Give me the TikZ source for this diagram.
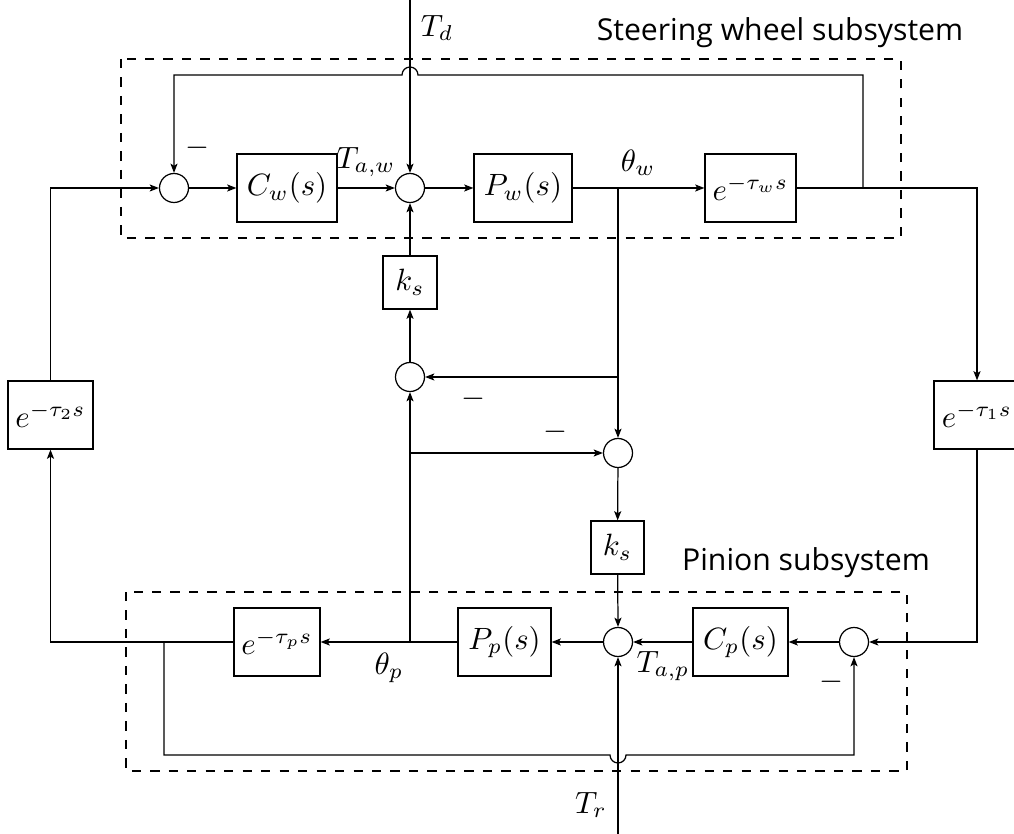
\documentclass[tikz,border=0pt]{standalone}
\usepackage[no-math]{fontspec}
\newfontfamily\subfont{Open Sans}
\usetikzlibrary{arrows.meta}
\begin{document}
\begin{tikzpicture}[x=0.3247pt, y=-0.3247pt,
  blk/.style={draw, rectangle, inner sep=0pt, minimum height=22.08pt},
  sumc/.style={draw, circle, inner sep=0pt, minimum size=9.42pt},
  arr/.style={-{Stealth[length=3pt,width=2.3pt,inset=0.7pt]}},
  frame/.style={draw, dashed},
  lbl/.style={inner sep=0pt},
  sub/.style={inner sep=0pt, font=\subfont\fontsize{9.8}{12}\selectfont}]
\useasboundingbox (0,0) rectangle (1014,834);

% subsystem frames
\draw[frame] (121,59) rectangle (901,238);
\draw[frame] (126,592) rectangle (907,771);
\node[sub] (swlabel) at (780,33) {Steering wheel subsystem};
\node[sub] (pnlabel) at (806,563) {Pinion subsystem};

% steering wheel row
\node[sumc] (s1) at (174,188) {};
\node[blk, minimum width=32.47pt] (cw) at (287,188) {$C_w(s)$};
\node[sumc] (s2) at (410,188) {};
\node[blk, minimum width=31.82pt] (pw) at (523,188) {$P_w(s)$};
\node[blk, minimum width=29.55pt] (dw) at (750.5,188) {$e^{-\tau_w s}$};

% middle
\node[blk, minimum width=17.53pt, minimum height=17.21pt] (ks1) at (410,282.5) {$k_s$};
\node[sumc] (s3) at (410,377) {};
\node[sumc] (s4) at (618,453) {};
\node[blk, minimum width=17.21pt, minimum height=17.21pt] (ks2) at (617.5,547.5) {$k_s$};

% delays
\node[blk, minimum width=27.6pt] (d2) at (50.5,415) {$e^{-\tau_2 s}$};
\node[blk, minimum width=27.92pt] (d1) at (977,415) {$e^{-\tau_1 s}$};

% pinion row
\node[blk, minimum width=27.92pt] (dp) at (277,642) {$e^{-\tau_p s}$};
\node[blk, minimum width=30.2pt] (pp) at (504.5,642) {$P_p(s)$};
\node[sumc] (s5) at (618,642) {};
\node[blk, minimum width=30.85pt] (cp) at (740.5,642) {$C_p(s)$};
\node[sumc] (s6) at (854,642) {};

% coordinates
\coordinate (tdtop) at (410,0);
\coordinate (trbot) at (618,834);
\coordinate (jw) at (618,188);
\coordinate (jo) at (863,188);
\coordinate (jw3) at (618,377);
\coordinate (jp) at (410,642);
\coordinate (jp4) at (410,453);
\coordinate (jl) at (164,642);

% labels
\node[lbl] (td) at (437,28) {$T_d$};
\node[lbl] (taw) at (366,162) {$T_{a,w}$};
\node[lbl] (thw) at (638,163) {$\theta_w$};
\node[lbl] (thp) at (389,668) {$\theta_p$};
\node[lbl] (tap) at (663,666) {$T_{a,p}$};
\node[lbl] (tr) at (591,805) {$T_r$};
\node[lbl] (m1) at (197,148) {$-$};
\node[lbl] (m2) at (473,399) {$-$};
\node[lbl] (m3) at (555,432) {$-$};
\node[lbl] (m4) at (831,682) {$-$};

% steering wheel connectors
\draw[arr] (tdtop) -- (s2.north);
\draw[arr] (s1) -- (cw);
\draw[arr] (cw) -- (s2);
\draw[arr] (s2) -- (pw);
\draw[arr] (pw) -- (dw);
\draw[arr] (dw.east) -- (d1.north |- dw.east) -- (d1.north);
\draw[arr] (jo) -- (863,75) -- (418,75) arc[start angle=0, end angle=180, radius=2.6pt] -- (174,75) -- (s1.north);
\draw[arr] (d2.north) |- (s1.west);

% middle connectors
\draw[arr] (jw) -- (s4.north);
\draw[arr] (jw3) -- (s3.east);
\draw[arr] (s3) -- (ks1);
\draw[arr] (ks1) -- (s2.south);
\draw[arr] (jp) -- (s3.south);
\draw[arr] (jp4) -- (s4.west);
\draw[arr] (s4) -- (ks2);
\draw[arr] (ks2) -- (s5.north);

% pinion connectors
\draw[arr] (trbot) -- (s5.south);
\draw[arr] (d1.south) |- (s6.east);
\draw[arr] (s6) -- (cp);
\draw[arr] (cp) -- (s5);
\draw[arr] (s5) -- (pp);
\draw[arr] (pp) -- (dp);
\draw[arr] (dp.west) -| (d2.south);
\draw[arr] (jl) -- (164,755) -- (610,755) arc[start angle=180, end angle=360, radius=2.6pt] -- (854,755) -- (s6.south);
\end{tikzpicture}
\end{document}
